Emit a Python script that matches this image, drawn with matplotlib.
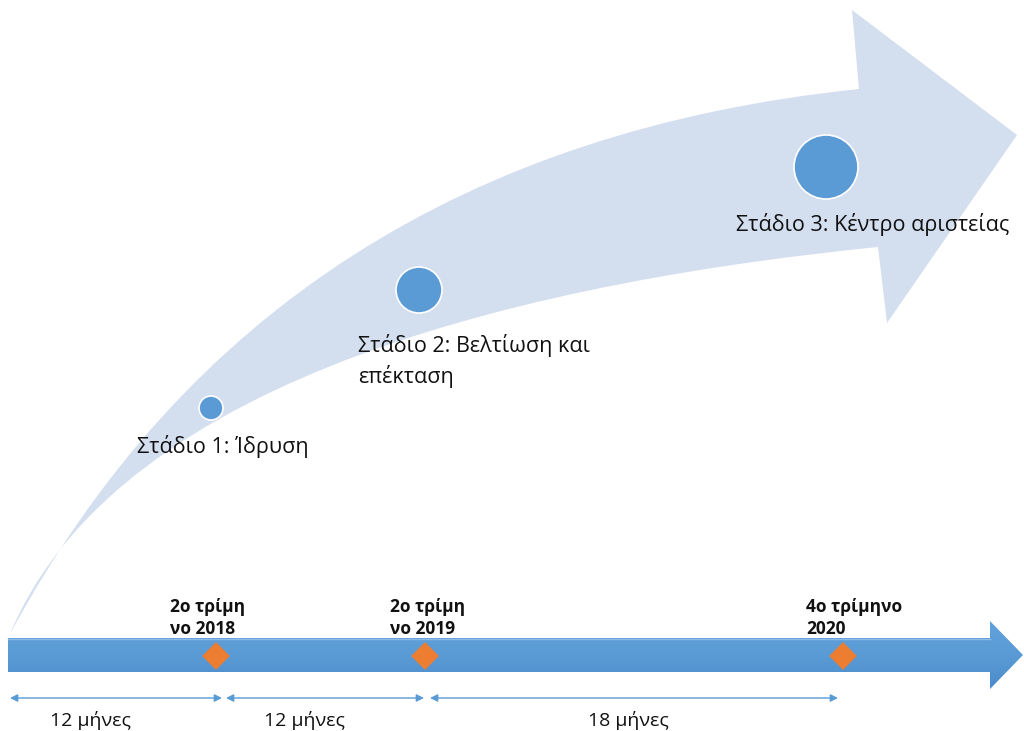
import matplotlib.pyplot as plt
import numpy as np
from matplotlib.path import Path
from matplotlib.patches import PathPatch, Circle, Polygon, FancyArrowPatch
from matplotlib.colors import LinearSegmentedColormap

plt.rcParams['font.family'] = ['Open Sans', 'DejaVu Sans']

# Στάδια (ετικέτες, θέσεις κύκλων, ακτίνες)
stage_labels = ['Στάδιο 1: Ίδρυση', 'Στάδιο 2: Βελτίωση και\nεπέκταση', 'Στάδιο 3: Κέντρο αριστείας']
stage_x = [211, 419, 826]
stage_y = [408, 290, 167]
stage_r = [12, 23, 32]
stage_text_xy = [(137, 447), (358, 361), (736, 224)]

# Ορόσημα χρονοδιαγράμματος
milestone_labels = ['2ο τρίμη\nνο 2018', '2ο τρίμη\nνο 2019', '4ο τρίμηνο\n2020']
milestone_x = [216, 425, 843]
milestone_text_x = [170, 390, 806]

# Διάρκειες
duration_labels = ['12 μήνες', '12 μήνες', '18 μήνες']
duration_start = [10, 226, 430]
duration_end = [222, 424, 838]
duration_text_x = [90, 305, 628]

LIGHT = '#d3deef'
BLUE = '#5b9bd5'
ORANGE = '#ed7d31'

fig = plt.figure(figsize=(10.24, 7.31), dpi=100)
ax = fig.add_axes([0, 0, 1, 1])
ax.set_xlim(0, 1024)
ax.set_ylim(731, 0)
ax.axis('off')

# Μεγάλο καμπύλο βέλος
verts = [(10, 634), (270, 150), (859, 89),
         (852, 10), (1017, 135), (887, 323), (878, 247),
         (550, 280), (120, 370), (10, 634), (10, 634)]
codes = [Path.MOVETO, Path.CURVE3, Path.CURVE3,
         Path.LINETO, Path.LINETO, Path.LINETO, Path.LINETO,
         Path.CURVE4, Path.CURVE4, Path.CURVE4, Path.CLOSEPOLY]
ax.add_patch(PathPatch(Path(verts, codes), facecolor=LIGHT, edgecolor='none', zorder=1))

# Κύκλοι σταδίων και ετικέτες
for x, y, r in zip(stage_x, stage_y, stage_r):
    ax.add_patch(Circle((x, y), r, facecolor=BLUE, edgecolor='white', lw=1.2, zorder=3))
for (tx, ty), lab in zip(stage_text_xy, stage_labels):
    ax.text(tx, ty, lab, fontsize=15.5, color='#111111', va='center', ha='left',
            linespacing=1.45, zorder=4)

# Βέλος χρονοδιαγράμματος με διαβάθμιση
bar = [(8, 638), (990, 638), (990, 621), (1023, 655), (990, 689), (990, 672), (8, 672)]
poly = Polygon(bar, closed=True, facecolor='none', edgecolor='none')
ax.add_patch(poly)
cmap = LinearSegmentedColormap.from_list('bar', ['#62a2dc', '#5b9bd5', '#4a8acb'])
grad = np.linspace(0, 1, 100).reshape(-1, 1)
im = ax.imshow(grad, cmap=cmap, extent=[8, 1023, 689, 621], aspect='auto', zorder=2,
               interpolation='bilinear')
im.set_clip_path(poly)
ax.plot([8, 990], [638.5, 638.5], color='#8dbbe6', lw=1, zorder=2)

# Ορόσημα
ax.scatter(milestone_x, [656] * 3, marker='D', s=200, color=ORANGE, edgecolor='none', zorder=5)
for x, lab in zip(milestone_text_x, milestone_labels):
    ax.text(x, 618, lab, fontsize=12.5, fontweight='bold', color='#111111',
            ha='left', va='center', linespacing=1.3, zorder=4)

# Διάρκειες
for x0, x1, tx, lab in zip(duration_start, duration_end, duration_text_x, duration_labels):
    ax.add_patch(FancyArrowPatch((x0, 698), (x1, 698), arrowstyle='<|-|>', mutation_scale=11,
                                 color=BLUE, lw=1, shrinkA=0, shrinkB=0, zorder=3))
    ax.text(tx, 720, lab, fontsize=14, color='#111111', ha='center', va='center')

fig.savefig('out.png', dpi=100)
